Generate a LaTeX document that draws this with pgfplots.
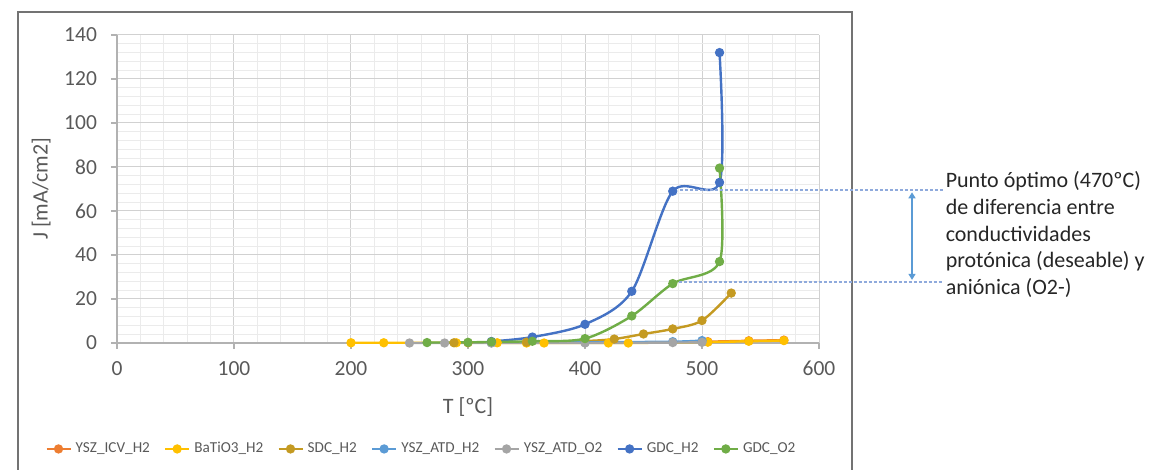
\documentclass[border=0pt]{standalone}
\usepackage{fontspec}
\setmainfont{Carlito}
\usepackage{pgfplots}
\pgfplotsset{compat=1.18}
\usetikzlibrary{arrows.meta}
\definecolor{cICV}{HTML}{ED7D31}
\definecolor{cBaT}{HTML}{FFC000}
\definecolor{cSDC}{HTML}{C49A22}
\definecolor{cATDH}{HTML}{5B9BD5}
\definecolor{cATDO}{HTML}{A5A5A5}
\definecolor{cGDCH}{HTML}{4472C4}
\definecolor{cGDCO}{HTML}{70AD47}
\definecolor{txt}{HTML}{595959}
\definecolor{annot}{HTML}{8FAADC}
\begin{document}
\begin{tikzpicture}[x=1pt,y=1pt]
\useasboundingbox (0,0) rectangle (575,235);
\draw[line width=0.9pt, color=black!55] (9,-2) -- (9,229) -- (426,229) -- (426,-2);
\begin{axis}[
 at={(58.5pt,63.5pt)}, anchor=origin,
 scale only axis, width=351pt, height=154pt,
 xmin=0, xmax=600, ymin=0, ymax=140,
 xtick={0,100,...,600}, ytick={0,20,...,140},
 minor x tick num=4, minor y tick num=4,
 grid=both,
 major grid style={color=black!18, line width=0.5pt},
 minor grid style={color=black!8, line width=0.4pt},
 axis x line=bottom, axis y line=left,
 axis line style={-, draw=black!30, line width=0.6pt},
 tick align=outside, major tick length=3pt, minor tick length=0pt,
 tick style={draw=black!30, line width=0.6pt},
 ticklabel style={font=\fontsize{10.75}{12}\selectfont, text=txt},
 yticklabel style={xshift=-3.5pt},
 xticklabel style={yshift=-2.5pt},
 /pgf/number format/assume math mode=true,
 xlabel={T [ºC]}, ylabel={J [mA/cm2]},
 label style={font=\fontsize{11}{13}\selectfont, text=txt},
 xlabel style={yshift=-4pt},
 clip=false,
 legend columns=7,
 legend style={draw=none, fill=none, at={(axis description cs:0.435,-0.344)}, anchor=center,
   font=\fontsize{7.6}{8.5}\selectfont, text=txt,
   /tikz/every even column/.append style={column sep=5pt}},
 legend image code/.code={\draw[mark repeat=2,mark phase=2] plot coordinates {(0pt,0pt)(6pt,0pt)(12pt,0pt)};},
 every axis plot/.append style={line width=1.2pt, mark=*, mark size=1.7pt, smooth},
]
\addplot[color=cICV, mark options={fill=cICV}] coordinates {(505,0.6)(540,1.0)(570,1.3)};
\addlegendentry{YSZ\_ICV\_H2}
\addplot[color=cBaT, mark options={fill=cBaT}] coordinates {(200,0.1)(228,0.1)(290,0.1)(325,0.1)(350,0)(365,0)(420,0)(437,0)(505,0.4)(540,0.8)(570,1.1)};
\addlegendentry{BaTiO3\_H2}
\addplot[color=cSDC, mark options={fill=cSDC}] coordinates {(288,0.1)(300,0.1)(320,0.2)(350,0.4)(400,0.9)(425,1.8)(450,4.1)(475,6.4)(500,10.2)(525,22.7)};
\addlegendentry{SDC\_H2}
\addplot[color=cATDH, mark options={fill=cATDH}] coordinates {(320,0.1)(400,0.3)(475,0.6)(500,1.1)};
\addlegendentry{YSZ\_ATD\_H2}
\addplot[color=cATDO, mark options={fill=cATDO}] coordinates {(250,0)(280,0)(320,0)(400,0)(475,0.2)(500,0.3)};
\addlegendentry{YSZ\_ATD\_O2}
\addplot[color=cGDCH, mark options={fill=cGDCH}] coordinates {(320,0.7)(355,2.7)(400,8.5)(440,23.5)(475,69)(515,73)(515,132)};
\addlegendentry{GDC\_H2}
\addplot[color=cGDCO, mark options={fill=cGDCO}] coordinates {(265,0.2)(300,0.3)(320,0.5)(355,0.8)(400,2)(440,12.3)(475,27)(515,37)(515,79.5)};
\addlegendentry{GDC\_O2}
\draw[annot, line width=0.6pt, dash pattern=on 1.5pt off 1pt] (axis cs:481,69.5) -- (axis cs:706,69.5);
\draw[annot, line width=0.6pt, dash pattern=on 1.5pt off 1pt] (axis cs:480,27.7) -- (axis cs:706,27.7);
\draw[cATDH, line width=0.8pt, {Triangle[length=3pt,width=3.5pt]}-{Triangle[length=3pt,width=3.5pt]}] (axis cs:679.5,68.5) -- (axis cs:679.5,28.7);
\node[anchor=west, align=left, inner sep=0pt, text=black!85, font=\fontsize{11}{13.4}\selectfont] at (axis cs:708,49.3) {Punto óptimo (470ºC)\\de diferencia entre\\conductividades\\protónica (deseable) y\\aniónica (O2-)};
\end{axis}
\end{tikzpicture}
\end{document}
